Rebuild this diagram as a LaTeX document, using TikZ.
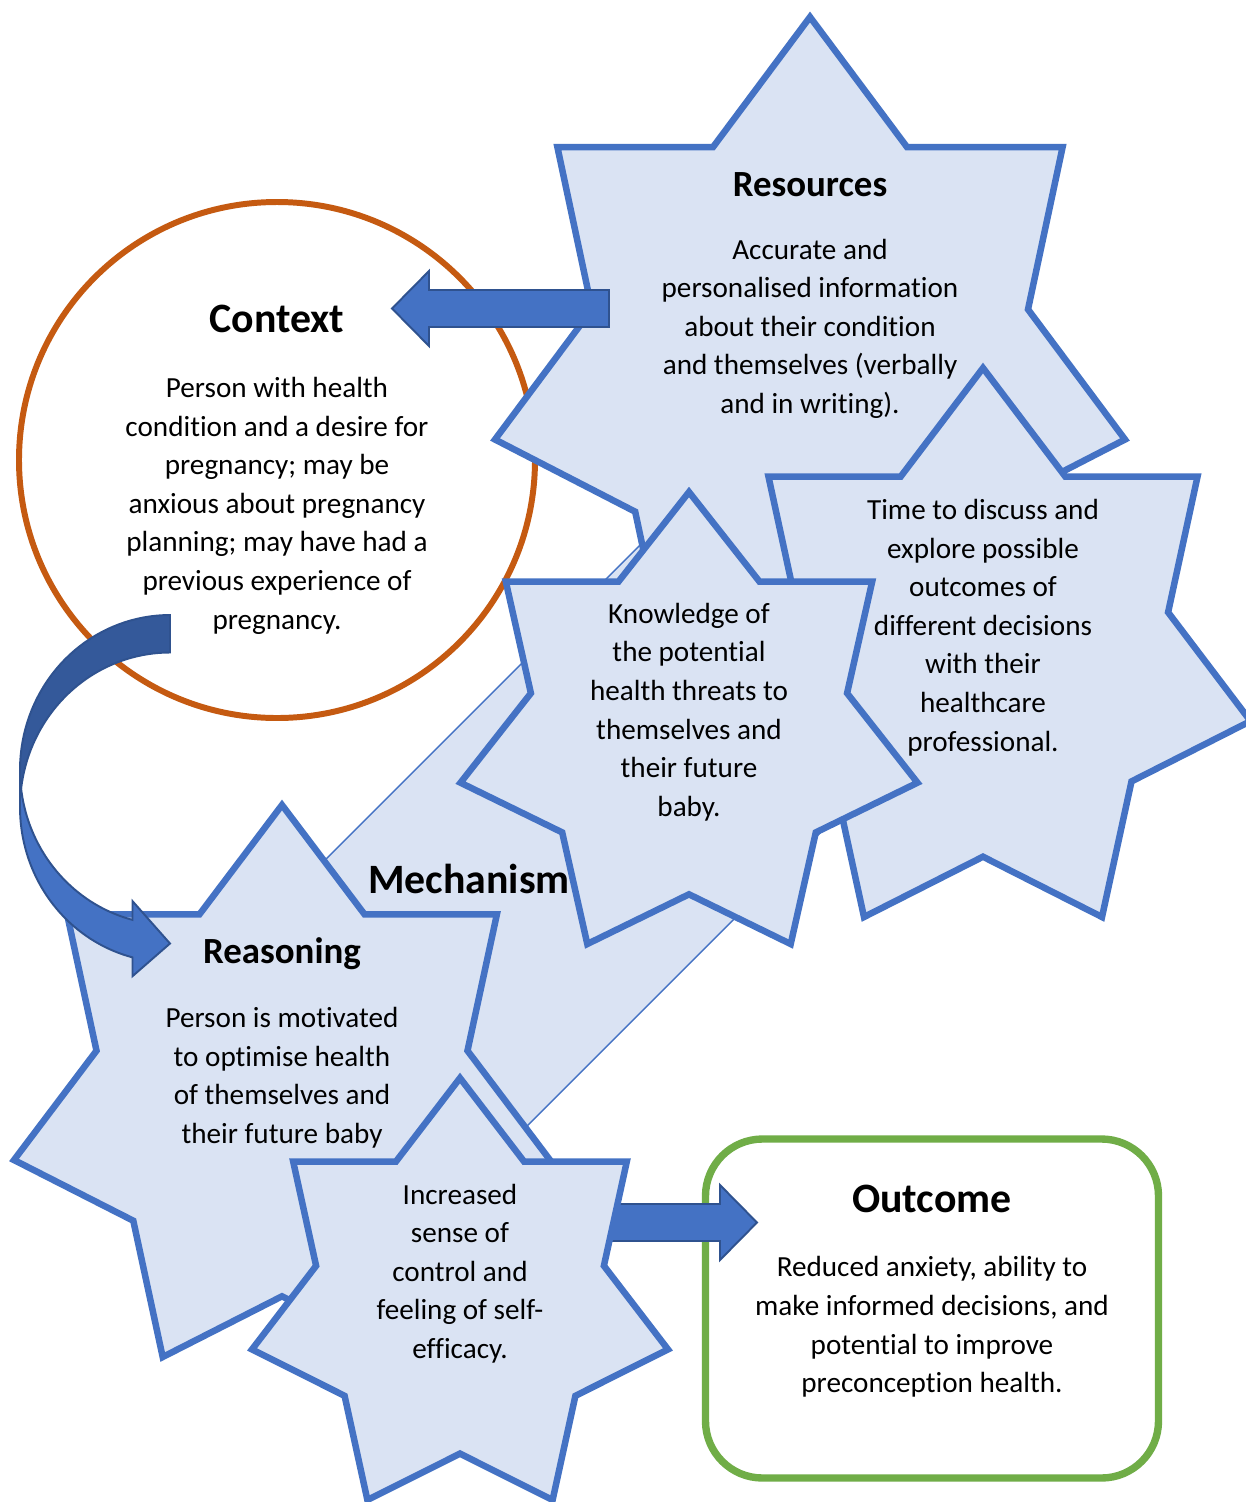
\documentclass[tikz,border=0pt]{standalone}
\usepackage{fontspec}
\setmainfont{Carlito}[Ligatures={NoCommon}]
\usepackage{tikz}
\definecolor{starfill}{HTML}{DAE3F3}
\definecolor{starline}{HTML}{4472C4}
\definecolor{arrowedge}{HTML}{2F528F}
\definecolor{arrowback}{HTML}{34599A}
\definecolor{ctxorange}{HTML}{C55A11}
\definecolor{outgreen}{HTML}{70AD47}

\begin{document}
\begin{tikzpicture}[x=0.02cm,y=-0.02cm,
  starshape/.style={draw=starline,fill=starfill,line width=3.7pt},
  mechrect/.style={draw=starline,fill=starfill,line width=0.8pt},
  blockarrow/.style={draw=arrowedge,fill=starline,line width=1.1pt},
  bodytext/.style={align=center,font=\fontsize{16.6}{21.97}\selectfont,execute at begin node=\strut,execute at end node=\strut},
  bighead/.style={anchor=base,font=\fontsize{23.8}{28}\selectfont\bfseries},
  smallhead/.style={anchor=base,font=\fontsize{21}{25}\selectfont\bfseries}]
\tikzstyle{every node}+=[inner sep=0pt]
\useasboundingbox (0,0) rectangle (1246,1502);
\fill [white] (0,0) rectangle (1246,1502);
\filldraw [mechrect] (250,935) -- (700,485) -- (934,719) -- (484,1169) -- cycle;
\filldraw [draw=ctxorange,fill=white,line width=3.4pt] (277,460) circle (258);
\filldraw [starshape] (810,17) -- (907,147.1) -- (1062.6,147.1) -- (1028,309.4) -- (1125,439.5) -- (984.8,511.7) -- (950.2,674) -- (810,601.8) -- (669.8,674) -- (635.2,511.7) -- (495,439.5) -- (592,309.4) -- (557.4,147.1) -- (713,147.1) -- cycle;
\filldraw [starshape] (983,368) -- (1065.4,476.7) -- (1197.5,476.7) -- (1168.1,612.3) -- (1250.5,721.1) -- (1131.5,781.4) -- (1102,917) -- (983,856.7) -- (864,917) -- (834.5,781.4) -- (715.5,721.1) -- (797.9,612.3) -- (768.5,476.7) -- (900.6,476.7) -- cycle;
\filldraw [starshape] (689,492) -- (759.4,581.5) -- (872.2,581.5) -- (847.1,693.2) -- (917.5,782.7) -- (815.8,832.4) -- (790.7,944) -- (689,894.3) -- (587.3,944) -- (562.2,832.4) -- (460.5,782.7) -- (530.9,693.2) -- (505.8,581.5) -- (618.6,581.5) -- cycle;
\filldraw [starshape] (282,805) -- (364.5,914.3) -- (496.9,914.3) -- (467.5,1050.7) -- (550,1160) -- (430.7,1220.7) -- (401.3,1357) -- (282,1296.3) -- (162.7,1357) -- (133.3,1220.7) -- (14,1160) -- (96.5,1050.7) -- (67.1,914.3) -- (199.5,914.3) -- cycle;
\filldraw [draw=outgreen,fill=white,line width=4.2pt,rounded corners=1.14cm] (705.5,1139) rectangle (1158.5,1478);
\filldraw [blockarrow] (600,1204) -- (720,1204) -- (720,1185) -- (757,1222.5) -- (720,1260) -- (720,1241) -- (600,1241) -- cycle;
\filldraw [starshape] (460,1078) -- (524.1,1161.6) -- (626.8,1161.6) -- (603.9,1265.8) -- (668,1349.4) -- (575.4,1395.8) -- (552.6,1500) -- (460,1453.6) -- (367.4,1500) -- (344.6,1395.8) -- (252,1349.4) -- (316.1,1265.8) -- (293.2,1161.6) -- (395.9,1161.6) -- cycle;
\filldraw [blockarrow] (609,290) -- (429,290) -- (429,271) -- (392,308.5) -- (429,346) -- (429,327) -- (609,327) -- cycle;
\filldraw [blockarrow] (20,769.9) -- plot[domain=180:104.48,samples=40,variable=\t] ({170+150*cos(\t)},{769.9+154.9*sin(\t)}) -- (132.5,901.1) -- (170,943.5) -- (132.5,976.2) -- (132.5,957.4) -- plot[domain=104.48:180,samples=40,variable=\t] ({170+150*cos(\t)},{807.4+154.9*sin(\t)}) -- cycle;
\filldraw [blockarrow,fill=arrowback] (170,652.5) -- plot[domain=270:186.95,samples=40,variable=\t] ({170+150*cos(\t)},{807.4+154.9*sin(\t)}) -- plot[domain=173.05:270,samples=40,variable=\t] ({170+150*cos(\t)},{769.9+154.9*sin(\t)}) -- cycle;
\draw (277,332) node [bighead] (ctxhead) {Context};
\draw (277,509) node [bodytext] (ctxbody) {Person with health\\condition and a desire for\\pregnancy; may be\\anxious about pregnancy\\planning; may have had a\\previous experience of\\pregnancy.};
\draw (810,196) node [smallhead] (reshead) {Resources};
\draw (810,332) node [bodytext] (resbody) {Accurate and\\personalised information\\about their condition\\and themselves (verbally\\and in writing).};
\draw (983,631) node [bodytext] (timebody) {Time to discuss and\\explore possible\\outcomes of\\different decisions\\with their\\healthcare\\professional.};
\draw (689,715.5) node [bodytext] (knowbody) {Knowledge of\\the potential\\health threats to\\themselves and\\their future\\baby.};
\draw (469,893) node [bighead] (mechhead) {Mechanism};
\draw (282,963) node [smallhead] (reashead) {Reasoning};
\draw (282,1081) node [bodytext] (reasbody) {Person is motivated\\to optimise health\\of themselves and\\their future baby};
\draw (460,1277) node [bodytext] (incbody) {Increased\\sense of\\control and\\feeling of self-\\efficacy.};
\draw (932,1212) node [bighead] (outhead) {Outcome};
\draw (932,1330.5) node [bodytext] (outbody) {Reduced anxiety, ability to\\make informed decisions, and\\potential to improve\\preconception health.};
\end{tikzpicture}
\end{document}
